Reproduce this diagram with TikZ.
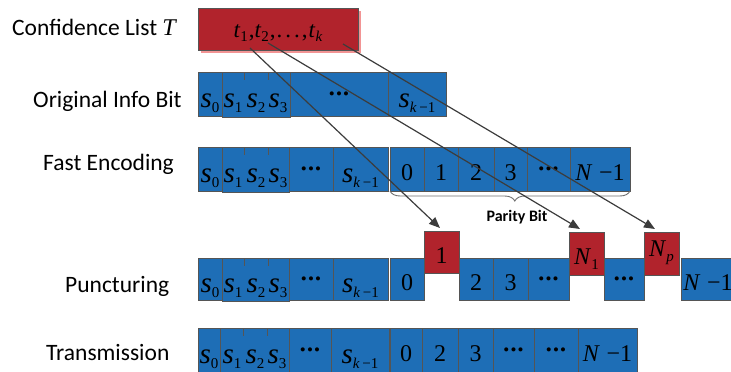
\documentclass[tikz,border=0pt]{standalone}
\usepackage{fontspec}
\setmainfont{Liberation Serif}
\newfontfamily\cellfont{Liberation Serif}
\newfontfamily\labfont{Carlito}
\usetikzlibrary{arrows.meta,decorations.pathreplacing,shadows}

\definecolor{cellblue}{RGB}{30,110,182}
\definecolor{cellred}{RGB}{177,35,44}
\definecolor{shadowpink}{RGB}{242,148,148}
\definecolor{cellline}{RGB}{85,85,85}
\definecolor{linkgray}{RGB}{60,60,60}
\definecolor{bracegray}{RGB}{110,110,110}

% italic symbol with a lowered subscript
\newcommand\lo[1]{\raisebox{-5pt}{\fontsize{15}{15}\selectfont #1}}
\newcommand\sv[1]{\raisebox{-2pt}{{\fontsize{29}{29}\selectfont\textit{s}}\lo{#1}}}
\newcommand\cdotsx{\raisebox{6pt}{\fontsize{17}{17}\selectfont •\kern1.2pt•\kern1.2pt•}}
\newcommand\km{\textit{k}\,−1}
\newcommand\Nm{\textit{N}\;−1}

% one cell of a row: style, name, x1, x2, y1, y2, text
\newcommand\bitcell[7]{%
  \node[#1, minimum width={#4-#3}, minimum height={#6-#5}] (#2)
    at ({(#3+#4)/2},{(#5+#6)/2}) {#7};}

\tikzset{
  cellbase/.style={draw=cellline, line width=0.8pt, inner sep=0pt, outer sep=0pt,
    text height=22pt, text depth=0pt, font=\cellfont\fontsize{24}{24}\selectfont},
  bcell/.style={cellbase, fill=cellblue},
  rcell/.style={cellbase, fill=cellred},
  celltext/.style={inner sep=0pt, text height=22pt, text depth=0pt,
    font=\cellfont\fontsize{24}{24}\selectfont},
  rowlabel/.style={inner sep=0pt, anchor=base west, font=\labfont\fontsize{23.5}{24}\selectfont},
  tick/.style={draw=cellline, line width=0.8pt},
  link/.style={draw=linkgray, line width=1.2pt, -{Triangle[length=11pt,width=9pt]}},
  bracestyle/.style={draw=bracegray, line width=0.9pt, decorate,
    decoration={brace, mirror, amplitude=10pt, aspect=0.52}},
}

\begin{document}
\begin{tikzpicture}[x=1pt, y=-1pt]
\useasboundingbox (0,0) rectangle (731,372);
\clip (0,0) rectangle (731,372);

% ---------- row labels ----------
\node[rowlabel] (lconf) at (12,35) {Confidence List {\cellfont\itshape\fontsize{24}{24}\selectfont T}};
\node[rowlabel] (linfo) at (33,107) {Original Info Bit};
\node[rowlabel] (lenc)  at (43,170) {Fast Encoding};
\node[rowlabel] (lpunc) at (65,292) {Puncturing};
\node[rowlabel] (ltx)   at (46,360) {Transmission};

% ---------- confidence list ----------
\node[cellbase, fill=cellred, minimum width=160, minimum height=42, text height=16pt,
      font=\cellfont\fontsize{23}{23}\selectfont,
      drop shadow={shadow xshift=3pt, shadow yshift=-3pt, fill=shadowpink, opacity=1}]
  (conf) at (278,29)
  {\textit{t}\lo{1}\kern1pt,\textit{t}\lo{2}\kern1pt,\kern1pt.\kern3pt.\kern3pt.\kern2pt,\kern1pt\textit{t}\lo{\textit{k}}};

% ---------- original info bits ----------
\bitcell{bcell}{a0}{198}{222}{72}{116}{\sv0}
\bitcell{bcell}{a1}{222}{290}{72}{117.5}{}
\bitcell{bcell}{a4}{290}{388}{72}{116}{\cdotsx}
\bitcell{bcell}{a5}{388}{446}{72}{116}{\sv\km}
\node[celltext] (a1t) at (233,94) {\sv1};
\node[celltext] (a2t) at (256,94) {\sv2};
\node[celltext] (a3t) at (278,94) {\sv3};
\draw[tick] (244,72) -- (244,80) (268,72) -- (268,80);

% ---------- fast encoding ----------
\bitcell{bcell}{b0}{198}{222}{147}{191}{\sv0}
\bitcell{bcell}{b1}{222}{289}{147}{192.5}{}
\bitcell{bcell}{b4}{289}{333}{147}{191}{\cdotsx}
\bitcell{bcell}{b5}{333}{388}{147}{191}{\sv\km}
\node[celltext] (b1t) at (233,169) {\sv1};
\node[celltext] (b2t) at (256,169) {\sv2};
\node[celltext] (b3t) at (278,169) {\sv3};
\draw[tick] (244,147) -- (244,155) (268,147) -- (268,155);
\bitcell{bcell}{f0}{390}{424}{147}{191}{0}
\bitcell{bcell}{f1}{424}{458}{147}{191}{1}
\bitcell{bcell}{f2}{458}{494}{147}{191}{2}
\bitcell{bcell}{f3}{494}{527}{147}{191}{3}
\bitcell{bcell}{f4}{527}{570}{147}{191}{\cdotsx}
\bitcell{bcell}{fN}{570}{630}{147}{191}{\Nm}
\draw[bracestyle] (f0.south west) -- (fN.south east);
\node[inner sep=0pt, anchor=base, font=\labfont\bfseries\fontsize{16}{16}\selectfont]
  (parity) at (517,221) {Parity Bit};

% ---------- puncturing ----------
\bitcell{bcell}{c0}{198}{222}{258}{300}{\sv0}
\bitcell{bcell}{c1}{222}{289}{258}{301.5}{}
\bitcell{bcell}{c4}{289}{333}{258}{300}{\cdotsx}
\bitcell{bcell}{c5}{333}{388}{258}{300}{\sv\km}
\node[celltext] (c1t) at (233,279) {\sv1};
\node[celltext] (c2t) at (256,279) {\sv2};
\node[celltext] (c3t) at (278,279) {\sv3};
\draw[tick] (244,258) -- (244,266) (268,258) -- (268,266);
\bitcell{bcell}{p0}{390}{424}{258}{300}{0}
\bitcell{rcell}{p1}{424}{459}{231}{273}{1}
\bitcell{bcell}{p2}{459}{493}{258}{300}{2}
\bitcell{bcell}{p3}{493}{528}{258}{300}{3}
\bitcell{bcell}{p4}{528}{569}{258}{300}{\cdotsx}
\bitcell{rcell}{pn1}{569}{604}{232}{275}{\textit{N}\lo{1}}
\bitcell{bcell}{p5}{604}{644}{258}{300}{\cdotsx}
\bitcell{rcell}{pnp}{644}{679}{232}{275}{\raisebox{8pt}{\textit{N}\lo{\textit{p}}}}
\bitcell{bcell}{pN}{681}{781}{258}{300}{\hspace*{-46pt}\Nm}

% ---------- transmission ----------
\bitcell{bcell}{d0}{198}{220}{328}{372}{\sv0}
\bitcell{bcell}{d1}{220}{289}{328}{373.5}{}
\bitcell{bcell}{d4}{289}{331}{328}{372}{\cdotsx}
\bitcell{bcell}{d5}{331}{389}{328}{372}{\sv\km}
\node[celltext] (d1t) at (232,350) {\sv1};
\node[celltext] (d2t) at (255,350) {\sv2};
\node[celltext] (d3t) at (277,350) {\sv3};
\draw[tick] (243,328) -- (243,336) (267,328) -- (267,336);
\bitcell{bcell}{e0}{390}{422}{328}{372}{0}
\bitcell{bcell}{e2}{422}{458}{328}{372}{2}
\bitcell{bcell}{e3}{458}{493}{328}{372}{3}
\bitcell{bcell}{e4}{493}{534}{328}{372}{\cdotsx}
\bitcell{bcell}{e5}{534}{578}{328}{372}{\cdotsx}
\bitcell{bcell}{eN}{578}{637}{328}{372}{\Nm}

% ---------- links from the confidence list to the punctured bits ----------
\coordinate (tA) at (250,48);
\coordinate (tB) at (268,43);
\coordinate (tC) at (343,44);
\draw[link] (tA) -- ([xshift=-1.5pt, yshift=3pt]p1.north);
\draw[link] (tB) -- ([xshift=-6.5pt, yshift=3pt]pn1.north);
\draw[link] (tC) -- ([xshift=-6.5pt, yshift=3pt]pnp.north);
\end{tikzpicture}
\end{document}
